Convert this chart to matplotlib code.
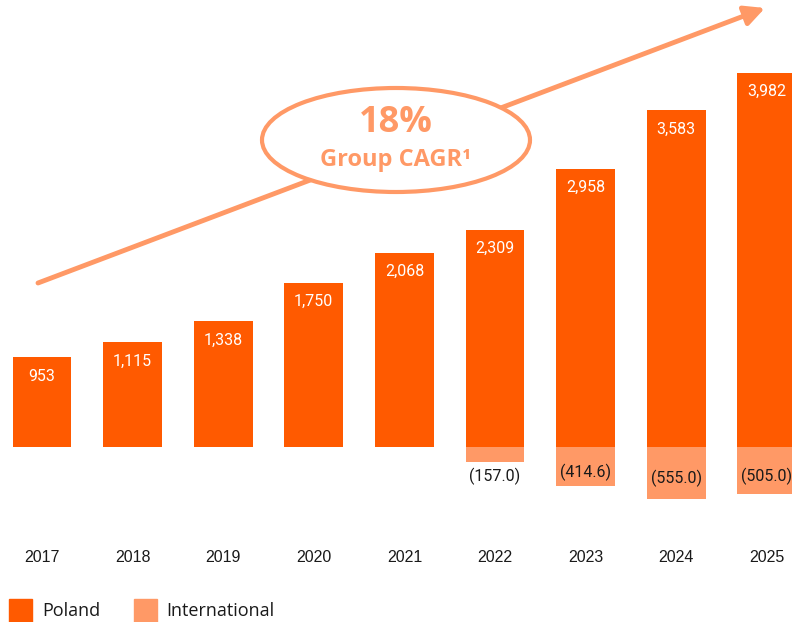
import matplotlib.pyplot as plt
from matplotlib.patches import Ellipse, FancyArrowPatch, Rectangle
from matplotlib.transforms import blended_transform_factory

years = ['2017', '2018', '2019', '2020', '2021', '2022', '2023', '2024', '2025']
poland = [953, 1115, 1338, 1750, 2068, 2309, 2958, 3583, 3982]
international = [0, 0, 0, 0, 0, -157.0, -414.6, -555.0, -505.0]

c_pl = '#FF5A00'
c_int = '#FF9966'

W, H = 792, 622
fig = plt.figure(figsize=(W / 100, H / 100), dpi=100)
ax = fig.add_axes([0, 0, 1, 1])

def fx(px):
    return px / W

def fy(py):
    return 1 - py / H

x = list(range(len(years)))
step = 90.6
ax.set_xlim(-42 / step, (W - 42) / step)
scale = 0.094
ax.set_ylim(-(H - 447) / scale, 447 / scale)
ax.axis('off')

ax.bar(x, poland, width=0.65, color=c_pl)
ax.bar(x, international, width=0.65, color=c_int)

for i, v in enumerate(poland):
    ax.text(i, v - 200, f'{v:,}', ha='center', va='center', color='white',
            fontsize=11.5, family='Roboto')

for i, v in enumerate(international):
    if v == 0:
        continue
    if v > -200:
        ax.text(i, v - 160, f'({-v:.1f})', ha='center', va='center', color='#1a1a1a',
                fontsize=11.5, family='Roboto')
    else:
        ax.text(i, v / 2 - 60, f'({-v:.1f})', ha='center', va='center', color='#1a1a1a',
                fontsize=11.5, family='Roboto')

btr = blended_transform_factory(ax.transData, fig.transFigure)
for i, y in enumerate(years):
    ax.text(i, fy(557), y, ha='center', va='center', fontsize=11.5,
            family='Liberation Sans', color='#1a1a1a', transform=btr)

# growth arrow
arrow = FancyArrowPatch((fx(38), fy(283)), (fx(765), fy(8)), transform=fig.transFigure,
                        arrowstyle='-|>', mutation_scale=30, linewidth=3.5,
                        color=c_int, shrinkA=0, shrinkB=0)
fig.patches.append(arrow)

ell = Ellipse((fx(396), fy(140)), 268 / W, 104 / H, transform=fig.transFigure,
              facecolor='white', edgecolor=c_int, linewidth=3)
fig.patches.append(ell)

fig.text(fx(396), fy(123), '18%', ha='center', va='center', fontsize=26,
         fontweight='bold', family='Open Sans', color=c_int)
fig.text(fx(396), fy(160), 'Group CAGR¹', ha='center', va='center', fontsize=17,
         fontweight='bold', family='Open Sans', color=c_int)

# legend
legend_items = [('Poland', c_pl, 9, 42), ('International', c_int, 134, 166)]
for label, col, sx, tx in legend_items:
    fig.patches.append(Rectangle((fx(sx), fy(622)), 23 / W, 23 / H,
                                 transform=fig.transFigure, color=col))
    fig.text(fx(tx), fy(611), label, ha='left', va='center', fontsize=13,
             family='Open Sans', color='#1a1a1a')

fig.savefig('out.png', dpi=100)
